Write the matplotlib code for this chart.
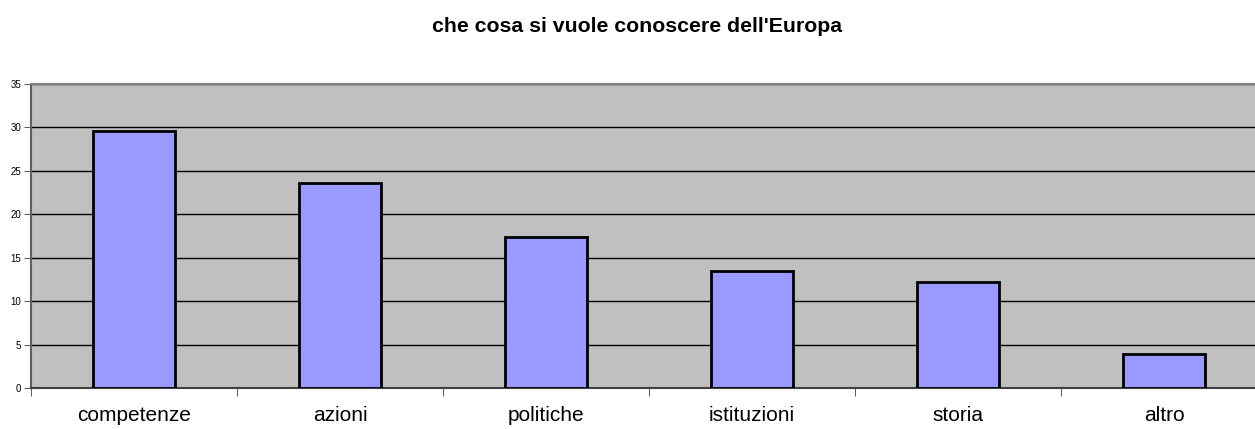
import matplotlib.pyplot as plt
import numpy as np

plt.rcParams['font.family'] = ['Liberation Sans', 'DejaVu Sans']

# survey answers (percent)
categories = ['competenze', 'azioni', 'politiche', 'istituzioni', 'storia', 'altro']
values = [29.6, 23.6, 17.4, 13.5, 12.2, 3.9]
title = "che cosa si vuole conoscere dell'Europa"

fig = plt.figure(figsize=(12.55, 4.29), dpi=100)
# plot area runs a little past the right edge of the figure
ax = fig.add_axes([31 / 1255, 1 - 388.3 / 429, (1267 - 31) / 1255, (388.3 - 84) / 429])

ax.set_facecolor('#C0C0C0')
x = np.arange(len(categories))
ax.bar(x, values, width=0.40, color='#9999FF', edgecolor='black', linewidth=2, zorder=3)

ax.set_xlim(-0.5, len(categories) - 0.5)
ax.set_ylim(0, 35)
ax.set_yticks(range(0, 36, 5))
ax.tick_params(axis='y', labelsize=7, length=5, direction='out', color='#606060', pad=2)

# category labels centred, ticks between categories
ax.set_xticks(x)
ax.set_xticklabels(categories, fontsize=15)
ax.tick_params(axis='x', length=0, pad=13)
ax.set_xticks(np.arange(-0.5, len(categories), 1), minor=True)
ax.tick_params(axis='x', which='minor', length=6, color='#404040', direction='out')

ax.yaxis.grid(True, color='black', linewidth=1)
ax.set_axisbelow(True)

ax.spines['right'].set_visible(False)
ax.spines['top'].set_color('#808080')
ax.spines['top'].set_linewidth(1.5)
ax.spines['left'].set_color('#606060')
ax.spines['left'].set_linewidth(1.5)
ax.spines['bottom'].set_color('#404040')
ax.spines['bottom'].set_linewidth(1.5)

fig.text(637.5 / 1255, 1 - 26 / 429, title, ha='center', va='center', fontsize=15.3, fontweight='bold')

fig.savefig('out.png', dpi=100)
